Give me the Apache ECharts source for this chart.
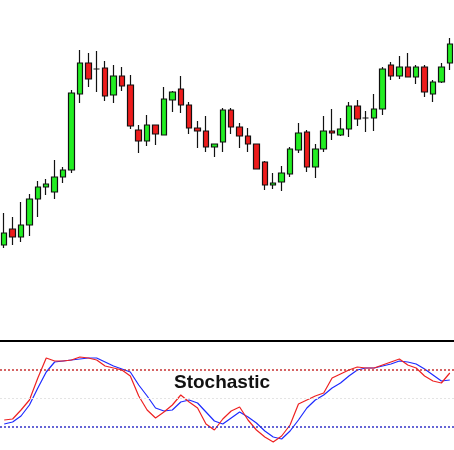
<!DOCTYPE html>
<html><head><meta charset="utf-8">
<script src="https://cdn.jsdelivr.net/npm/echarts@6/dist/echarts.min.js"></script>
<style>html,body{margin:0;padding:0;background:#fff}#c{width:454px;height:450px}</style>
</head><body><div id="c"></div>
<script>
// [open, close, low, high]
const candles = [
[55,67,52,87],[71,63,55,83],[63,75,58,98],[75,101,64,106],[101,113,83,119],
[113,116,105,121],[108,123,101,140],[123,130,117,133],[130,207,127,210],[206,237,197,250],
[237,221,213,247],[231,231,208,249],[232,204,199,239],[205,224,197,235],[224,214,209,233],
[215,174,171,225],[170,159,147,175],[159,175,154,185],[175,166,155,175],[165,201,165,213],
[200,208,188,209],[211,195,187,224],[195,172,166,198],[172,169,152,179],[169,153,148,184],
[153,156,143,156],[158,190,148,192],[190,173,166,192],[173,164,152,177],[164,156,148,172],
[156,131,131,156],[138,115,110,139],[115,117,111,127],[118,127,109,134],[126,151,123,153],
[150,167,147,177],[168,133,128,170],[133,151,122,156],[151,169,148,184],[169,167,160,191],
[165,171,164,182],[171,194,163,198],[194,181,174,200],[182,182,168,189],[182,191,169,206],
[191,231,185,233],[235,224,220,238],[224,233,221,244],[233,223,223,247],[223,233,216,235],
[233,208,203,235],[206,218,198,220],[218,233,217,237],[237,256,230,262]
];
const stochK = [30,31,40,50,72,92,89,89,90,93,92,90,84,82,80,74,54,40,32,38,45,55,48,42,26,20,31,39,43,30,20,13,8,14,25,46,50,54,57,72,76,80,83,82,82,85,88,91,85,82,74,69,67,77];
const stochD = [26,28,34,45,62,78,88,89,90,91,92,92,88,84,81,78,65,54,42,39,40,48,50,47,38,29,26,32,38,33,27,19,13,11,19,30,42,50,55,62,67,74,80,82,82,84,86,89,88,86,81,75,69,70];
const categories = candles.map((_, i) => String(i + 1));
const levelHigh = 80, levelMid = 52, levelLow = 23;

const chart = echarts.init(document.getElementById('c'), null, {renderer: 'canvas'});
chart.setOption({
  animation: false,
  grid: [
    {left: -1.25, width: 459, top: 0, height: 300},
    {left: -1.25, width: 459, top: 342, height: 108}
  ],
  xAxis: [
    {type: 'category', data: categories, gridIndex: 0, show: false},
    {type: 'category', data: categories, gridIndex: 1, show: false, boundaryGap: true}
  ],
  yAxis: [
    {type: 'value', min: 0, max: 300, gridIndex: 0, show: false},
    {type: 'value', min: 0, max: 108, gridIndex: 1, show: false}
  ],
  graphic: [
    {type: 'line', shape: {x1: 0, y1: 341, x2: 454, y2: 341}, style: {stroke: '#000', lineWidth: 2}},
    {type: 'text', left: 174, top: 373, style: {text: 'Stochastic', font: 'bold 19px Arial, "Liberation Sans", sans-serif', fill: '#111'}}
  ],
  series: [
    {type: 'candlestick', data: candles, xAxisIndex: 0, yAxisIndex: 0, barWidth: 6,
     itemStyle: {color: '#22ee22', color0: '#ee1c1c', borderColor: '#111', borderColor0: '#111', borderWidth: 1.2}},
    {type: 'line', data: stochD, xAxisIndex: 1, yAxisIndex: 1, symbol: 'none',
     lineStyle: {color: '#1e2bff', width: 1.2},
     markLine: {silent: true, symbol: 'none', label: {show: false},
       data: [
         {yAxis: levelHigh, lineStyle: {color: '#c83232', type: [2, 2], width: 1.5}},
         {yAxis: levelMid, lineStyle: {color: '#e4e4e4', type: [2, 2], width: 1}},
         {yAxis: levelLow, lineStyle: {color: '#3232c8', type: [2, 2], width: 1.5}}
       ]}},
    {type: 'line', data: stochK, xAxisIndex: 1, yAxisIndex: 1, symbol: 'none',
     lineStyle: {color: '#ee2222', width: 1.2}}
  ]
});
</script></body></html>
